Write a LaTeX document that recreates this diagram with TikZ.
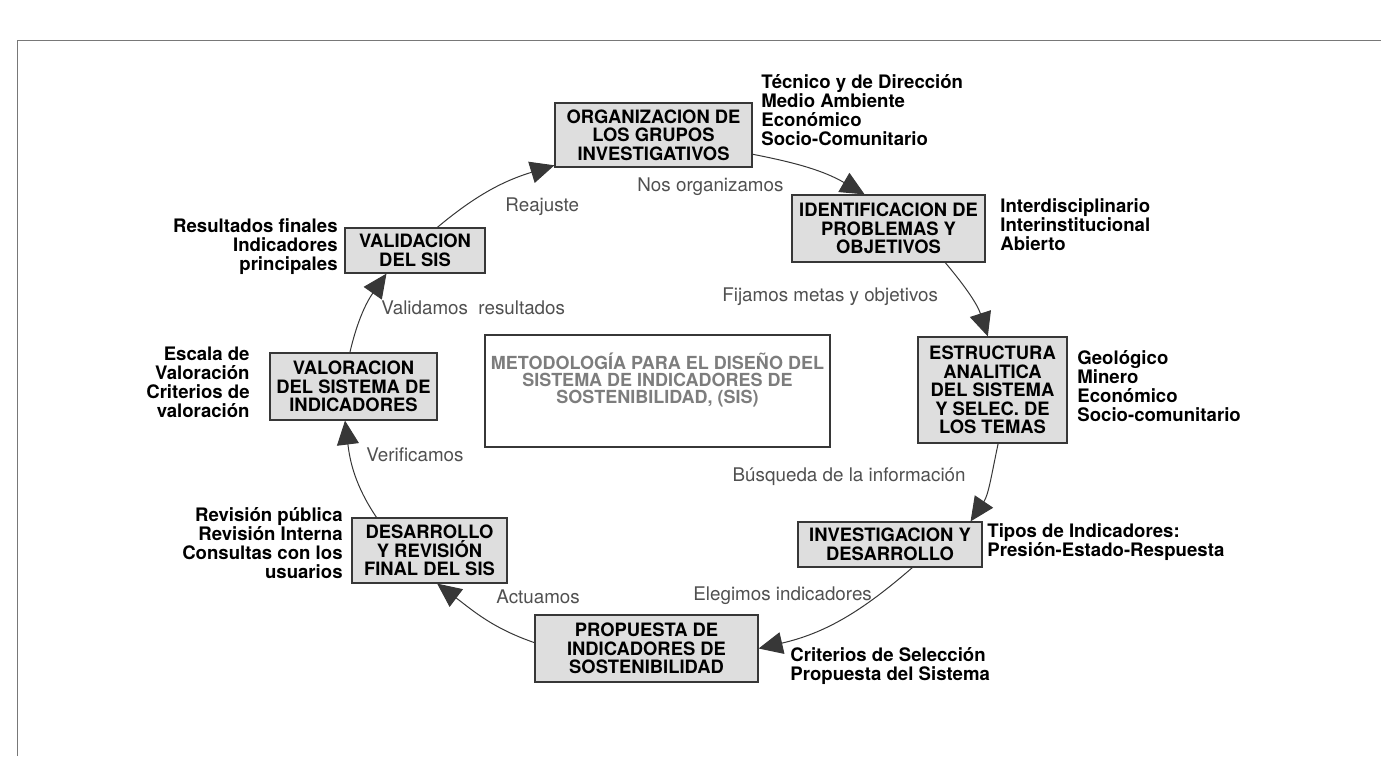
\documentclass[tikz,border=0pt]{standalone}
\usepackage{fontspec}
\setmainfont{TeX Gyre Heros}
\usetikzlibrary{arrows.meta}
\definecolor{boxGray}{RGB}{222,222,222}
\definecolor{lineGray}{RGB}{55,55,55}
\definecolor{labelGray}{RGB}{80,80,80}
\definecolor{titleGray}{RGB}{125,125,125}
\definecolor{frameGray}{RGB}{120,120,120}
\tikzset{
  stage/.style={draw=lineGray, line width=0.6pt, fill=boxGray, align=center, inner sep=0pt, font=\fontsize{9.2}{9.3}\selectfont\bfseries},
  note/.style={align=left, inner sep=0pt, font=\fontsize{9.3}{9.5}\selectfont\bfseries},
  rnote/.style={note, align=right},
  edgelbl/.style={inner sep=0pt, text=labelGray, font=\fontsize{9.4}{10}\selectfont},
  loopArrow/.style={-{Triangle[length=12pt,width=11pt]}, line width=0.5pt, draw=lineGray},
  titlebox/.style={draw=lineGray, line width=0.6pt, inner sep=0pt},
  titletext/.style={align=center, text=titleGray, inner sep=0pt, font=\fontsize{9}{8.5}\selectfont\bfseries}
}

\begin{document}
\begin{tikzpicture}[x=0.5pt,y=-0.5pt]
  \useasboundingbox (0,0) rectangle (1381,756);
  \draw[frameGray, line width=0.5pt] (17,756) |- (1381,40);

  % the eight stages of the cycle
  \node[stage, minimum width=98.5pt, minimum height=32pt] (org) at (653.5,135) {ORGANIZACION DE\\LOS GRUPOS\\INVESTIGATIVOS};
  \node[stage, minimum width=96.5pt, minimum height=33.5pt] (ident) at (888.5,228.5) {IDENTIFICACION DE\\PROBLEMAS Y\\OBJETIVOS};
  \node[stage, minimum width=74.5pt, minimum height=53pt] (estr) at (992.5,390) {ESTRUCTURA\\ANALITICA\\DEL SISTEMA\\Y SELEC. DE\\LOS TEMAS};
  \node[stage, minimum width=92pt, minimum height=22.5pt] (inv) at (890,544.5) {INVESTIGACION Y\\DESARROLLO};
  \node[stage, minimum width=111.5pt, minimum height=33.5pt] (prop) at (646.5,648.5) {PROPUESTA DE\\INDICADORES DE\\SOSTENIBILIDAD};
  \node[stage, minimum width=77.5pt, minimum height=32.5pt] (desa) at (429.5,550.5) {DESARROLLO\\Y REVISIÓN\\FINAL DEL SIS};
  \node[stage, minimum width=83.5pt, minimum height=33.5pt] (valo) at (353.5,386.5) {VALORACION\\DEL SISTEMA DE\\INDICADORES};
  \node[stage, minimum width=70pt, minimum height=22.5pt] (vali) at (415,250.5) {VALIDACION\\DEL SIS};

  % title in the middle
  \node[titlebox, minimum width=172.5pt, minimum height=56pt] (title) at (657.5,391) {};
  \node[titletext] (titletxt) at (657.5,380) {METODOLOGÍA PARA EL DISEÑO DEL\\SISTEMA DE INDICADORES DE\\SOSTENIBILIDAD, (SIS)};

  % notes beside the stages
  \node[note, anchor=west] (orgnote) at (761,110) {Técnico y de Dirección\\Medio Ambiente\\Económico\\Socio-Comunitario};
  \node[note, anchor=west] (identnote) at (1000,225) {Interdisciplinario\\Interinstitucional\\Abierto};
  \node[note, anchor=west] (estrnote) at (1077,386) {Geológico\\Minero\\Económico\\Socio-comunitario};
  \node[note, anchor=west] (invnote) at (987,542) {Tipos de Indicadores:\\Presión-Estado-Respuesta};
  \node[note, anchor=west] (propnote) at (790,666) {Criterios de Selección\\Propuesta del Sistema};
  \node[rnote, anchor=east] (desanote) at (343,543) {Revisión pública\\Revisión Interna\\Consultas con los\\usuarios};
  \node[rnote, anchor=east] (valonote) at (250,382) {Escala de\\Valoración\\Criterios de\\valoración};
  \node[rnote, anchor=east] (valinote) at (338,247) {Resultados finales\\Indicadores\\principales};

  % labels along the cycle
  \node[edgelbl, anchor=west] (l1) at (637,187) {Nos organizamos};
  \node[edgelbl, anchor=west] (l2) at (722,297) {Fijamos metas y objetivos};
  \node[edgelbl, anchor=east] (l3) at (966,477) {Búsqueda de la información};
  \node[edgelbl, anchor=west] (l4) at (693,596) {Elegimos indicadores};
  \node[edgelbl, anchor=west] (l5) at (496,597) {Actuamos};
  \node[edgelbl, anchor=west] (l6) at (366,455) {Verificamos};
  \node[edgelbl, anchor=west] (l7) at (381,308) {Validamos\ \ resultados};
  \node[edgelbl, anchor=west] (l8) at (505,207) {Reajuste};

  \draw[loopArrow] (org.-11) to[out=-11, in=150] (ident.125);
  \draw[loopArrow] (ident.-31) to[out=-50, in=108] (estr.95);
  \draw[loopArrow] (estr.-84) to[out=-102, in=56] (inv.16);
  \draw[loopArrow] (inv.-46) to[out=-139, in=13] (prop.east);
  \draw[loopArrow] (prop.177) to[out=161, in=-37] (desa.-77);
  \draw[loopArrow] (desa.148) to[out=124, in=-83] (valo.-104);
  \draw[loopArrow] (valo.96) to[out=77, in=-125] (vali.-141);
  \draw[loopArrow] (vali.46) to[out=40, in=-163] (org.-163);
\end{tikzpicture}
\end{document}
